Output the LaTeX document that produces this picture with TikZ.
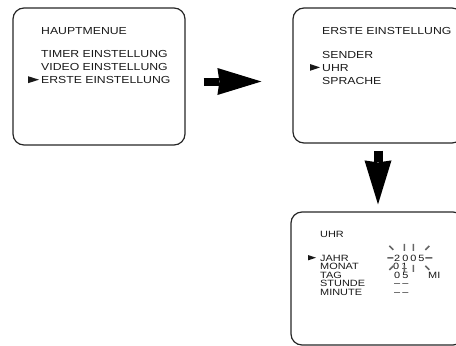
\documentclass[tikz,border=0pt]{standalone}
\usepackage{fontspec}
\setmainfont{Liberation Sans}[FakeStretch=1.2]
\usetikzlibrary{arrows.meta}

\begin{document}
\begin{tikzpicture}[x=1pt,y=-1pt,
        screen/.style={draw=black!85, line width=1.2pt, rounded corners=11pt, inner sep=0pt},
        txt/.style={anchor=base west, inner sep=0pt, text=black!90, font=\fontsize{10.2}{12}\selectfont},
        small/.style={txt, font=\fontsize{9.1}{10}\selectfont},
        bigarrow/.style={line width=#1, -{Stealth[length=44pt,width=27pt,inset=2pt,line width=0pt]}},
        ray/.style={line width=1.6pt, black!60}]
            \useasboundingbox (0,0) rectangle (456,346);
            \clip (0,0) rectangle (456,346);
            % screens
            \node[screen, minimum width=172pt, minimum height=137pt] (haupt) at (99,76.5) {};
            \node[screen, minimum width=170pt, minimum height=135pt] (erste) at (378,75.5) {};
            \node[screen, minimum width=173pt, minimum height=133pt] (uhr) at (377.5,278.5) {};
            % HAUPTMENUE
            \node[txt] (haupt_title) at (41,34) {HAUPTMENUE};
            \node[txt] (haupt_timer) at (41,57.3) {TIMER EINSTELLUNG};
            \node[txt] (haupt_video) at (41,70) {VIDEO EINSTELLUNG};
            \node[txt] (haupt_erste) at (41,83.3) {ERSTE EINSTELLUNG};
            \fill[black!90] (28,76.2) -- (39,79.7) -- (28,83.2) -- cycle;
            % ERSTE EINSTELLUNG
            \node[txt] (erste_title) at (322,34) {ERSTE EINSTELLUNG};
            \node[txt] (erste_sender) at (322,58) {SENDER};
            \node[txt] (erste_uhr) at (322,71) {UHR};
            \node[txt] (erste_sprache) at (322,84) {SPRACHE};
            \fill[black!90] (310,64) -- (320,67.4) -- (310,70.8) -- cycle;
            % UHR
            \node[small] (uhr_title) at (320,237) {UHR};
            \node[small] (uhr_jahr) at (320,261) {JAHR};
            \node[small] (uhr_monat) at (320,269.5) {MONAT};
            \node[small] (uhr_tag) at (320,278) {TAG};
            \node[small] (uhr_stunde) at (320,286.5) {STUNDE};
            \node[small] (uhr_minute) at (320,295) {MINUTE};
            \fill[black!90] (308,255) -- (316,257.7) -- (308,260.4) -- cycle;
            \node[small] (jahr_val) at (394,261) {2\kern2pt0\kern2pt0\kern2pt5};
            \node[small] (monat_val) at (393,269.5) {0\kern2pt1};
            \node[small] (tag_val) at (394,278) {0\kern2pt5};
            \node[small] (tag_day) at (428,278) {MI};
            \node[small] (stunde_val) at (394,286.5) {--\kern2pt--};
            \node[small] (minute_val) at (394,295) {--\kern2pt--};
            % blinking year
            \begin{scope}[shift={(jahr_val.center)}]
                \draw[ray] (-22,0) -- (-16,0)  (16,0) -- (23,0)
                    (-20,-12) -- (-16,-8)  (16,-8) -- (20,-12)
                    (-16,8) -- (-20,12)  (16,8) -- (20,12)
                    (-5,-14) -- (-5,-7)  (4,-14) -- (4,-7)
                    (-5,7) -- (-5,14)  (4,7) -- (4,14);
            \end{scope}
            % arrows
            \draw[bigarrow=8pt, shorten <=18pt, shorten >=31pt] ([yshift=-5pt]haupt.east) -- ([yshift=-5pt]haupt.east -| erste.west);
            \draw[bigarrow=9pt, shorten <=7pt, shorten >=7pt] (erste.south) -- (erste.south |- uhr.north);
        \end{tikzpicture}
\end{document}
